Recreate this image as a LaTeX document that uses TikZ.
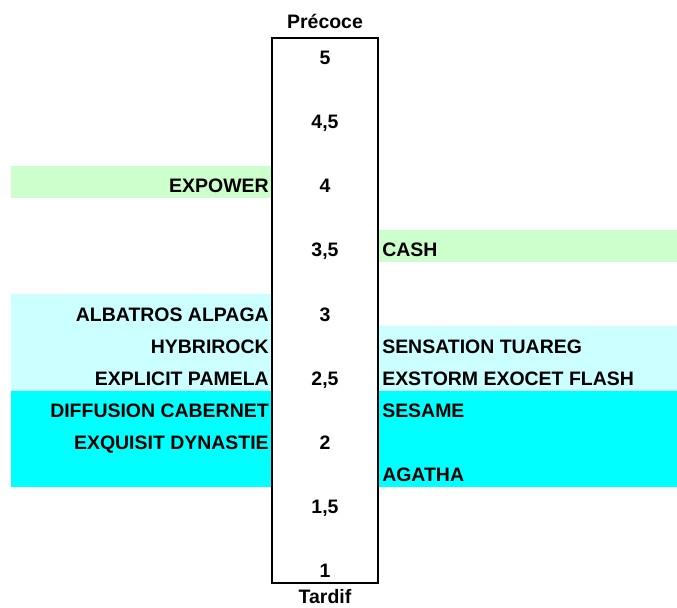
\documentclass[tikz,border=0pt]{standalone}
\usepackage{fontspec}
\setmainfont{Liberation Sans}
\definecolor{palegreen}{HTML}{CCFFCC}
\definecolor{palecyan}{HTML}{CCFFFF}
\definecolor{fullcyan}{HTML}{00FFFF}
\tikzset{
  lbl/.style = {font=\bfseries\fontsize{14.6}{16}\selectfont, inner sep=0pt, anchor=base},
  lbl left/.style = {lbl, anchor=base east},
  lbl right/.style = {lbl, anchor=base west},
  scalebox/.style = {draw, line width=1.5pt}
}

\begin{document}
\begin{tikzpicture}[x=0.75pt, y=-24.075pt]
  \useasboundingbox (0,0) rectangle (677,18.91);
  % bands behind the names
  \fill[palegreen] (11,5.17) rectangle (272,6.17);
  \fill[palegreen] (378,7.17) rectangle (677,8.17);
  \fill[palecyan] (11,9.17) rectangle (272,12.17);
  \fill[palecyan] (378,10.17) rectangle (677,12.17);
  \fill[fullcyan] (11,12.17) rectangle (272,15.17);
  \fill[fullcyan] (378,12.17) rectangle (677,15.17);
  % scale
  \draw[scalebox] (272,1.174) rectangle (378,18.17);
  \node[lbl] (early) at (325,0.903) {Précoce};
  \node[lbl] (late) at (325,18.8) {Tardif};
  \foreach \name/\val/\y in {v5/5/2, v45/{4,5}/4, v4/4/6, v35/{3,5}/8, v3/3/10,
      v25/{2,5}/12, v2/2/14, v15/{1,5}/16, v1/1/18}
    \node[lbl] (\name) at (325,\y) {\val};
  % names on the left
  \node[lbl left] (expower) at (269,6) {EXPOWER};
  \node[lbl left] (albatros) at (269,10) {ALBATROS ALPAGA};
  \node[lbl left] (hybrirock) at (269,11) {HYBRIROCK};
  \node[lbl left] (explicit) at (269,12) {EXPLICIT PAMELA};
  \node[lbl left] (diffusion) at (269,13) {DIFFUSION CABERNET};
  \node[lbl left] (exquisit) at (269,14) {EXQUISIT DYNASTIE};
  % names on the right
  \node[lbl right] (cash) at (382,8) {CASH};
  \node[lbl right] (sensation) at (382,11) {SENSATION TUAREG};
  \node[lbl right] (exstorm) at (382,12) {EXSTORM EXOCET FLASH};
  \node[lbl right] (sesame) at (382,13) {SESAME};
  \node[lbl right] (agatha) at (382,15) {AGATHA};
\end{tikzpicture}
\end{document}
